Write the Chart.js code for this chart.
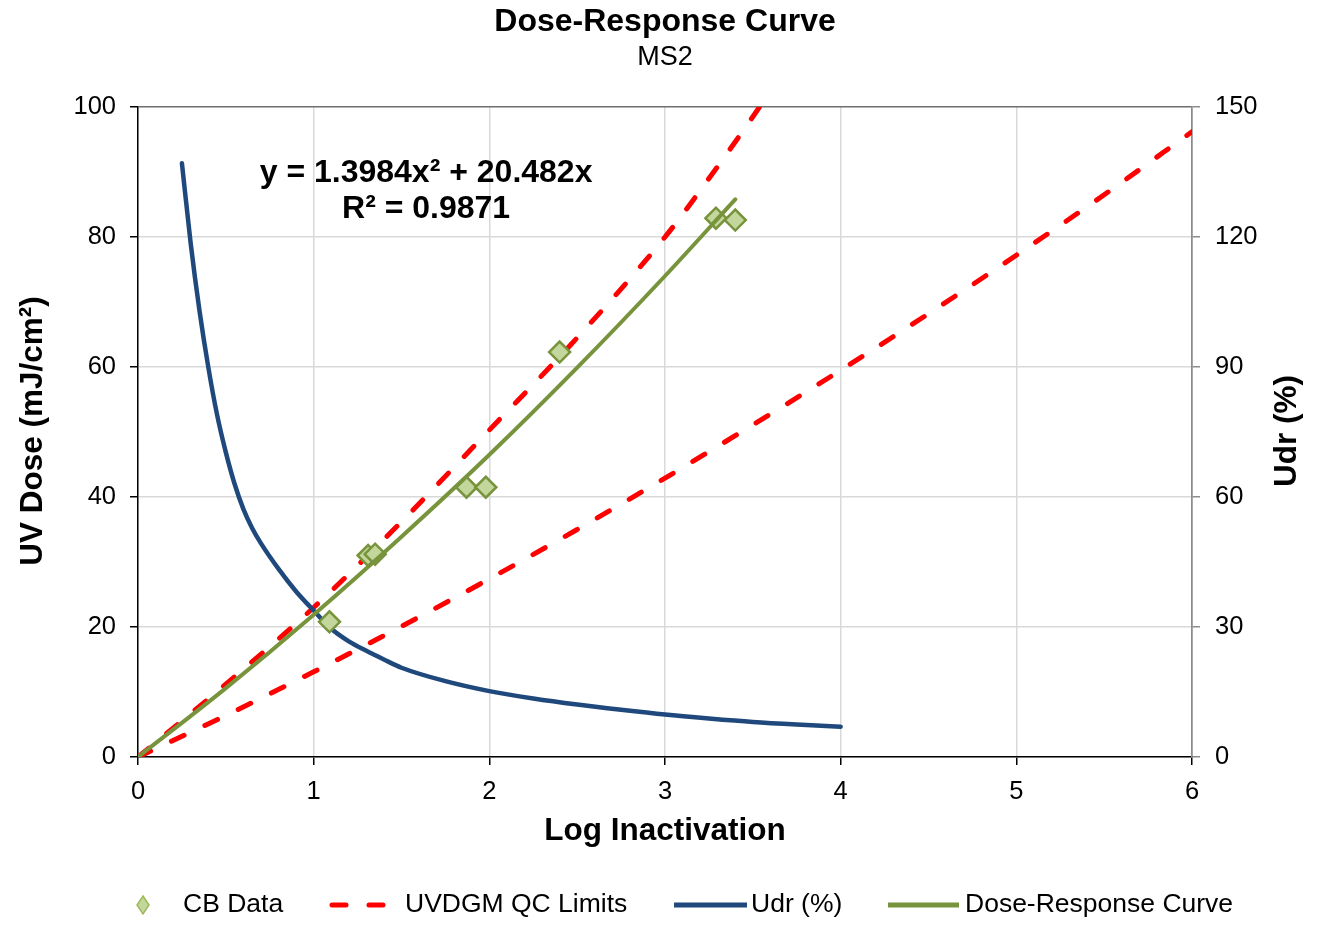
<!DOCTYPE html>
<html>
<head>
<meta charset="utf-8">
<script src="https://cdn.jsdelivr.net/npm/chart.js@4.4.1/dist/chart.umd.min.js"></script>
<style>
  html, body { margin: 0; padding: 0; background: #fff; }
  #wrap { width: 1322px; height: 930px; position: relative; }
</style>
</head>
<body>
<div id="wrap"><canvas id="c"></canvas></div>
<script>
// ---- data ----
const titleText = "Dose-Response Curve";
const subtitleText = "MS2";
const xTitle = "Log Inactivation";
const yTitle = "UV Dose (mJ/cm²)";
const y1Title = "Udr (%)";
const eqLine1 = "y = 1.3984x² + 20.482x";
const eqLine2 = "R² = 0.9871";
const legendLabels = ["CB Data", "UVDGM QC Limits", "Udr (%)", "Dose-Response Curve"];

const xTicks = [0, 1, 2, 3, 4, 5, 6];
const yTicks = [0, 20, 40, 60, 80, 100];
const y1Ticks = [0, 30, 60, 90, 120, 150];

// CB data points (log inactivation, UV dose)
const cbX = [1.09, 1.31, 1.35, 1.87, 1.98, 2.40, 3.29, 3.40];
const cbY = [20.8, 31.0, 31.2, 41.5, 41.5, 62.3, 82.9, 82.6];

// Upper UVDGM QC limit
const qcUpX = [0, 0.5, 1.0, 1.5, 2.0, 2.5, 3.0, 3.25, 3.5, 3.6];
const qcUpY = [0, 11.2, 23.0, 36.2, 50.3, 64.5, 80.0, 89.0, 98.5, 102.5];

// Lower UVDGM QC limit
const qcLoX = [0, 0.5, 1.0, 1.5, 2.0, 2.5, 3.0, 3.5, 4.0, 4.5, 5.0, 5.5, 6.0];
const qcLoY = [0, 6.4, 13.1, 20.1, 27.4, 35.0, 42.9, 51.1, 59.5, 68.2, 77.2, 86.5, 96.2];

// Udr (%) on right axis
const udrX = [0.25, 0.3, 0.35, 0.4, 0.45, 0.5, 0.55, 0.6, 0.65, 0.7, 0.8, 0.9, 1.0, 1.1, 1.2, 1.3, 1.4, 1.5, 1.75, 2.0, 2.25, 2.5, 2.75, 3.0, 3.25, 3.5, 3.75, 4.0];
const udrY = [137, 118.5, 103, 90, 79, 70.3, 63, 57.2, 52.8, 49.3, 43.4, 38.2, 33.8, 29.6, 26.7, 24.5, 22.5, 20.6, 17.5, 15.2, 13.5, 12.1, 10.9, 9.8, 8.9, 8.1, 7.5, 7.0];

// Dose-response curve
const drcX = [0, 0.5, 1.0, 1.5, 2.0, 2.5, 3.0, 3.4];
const drcY = [0, 10.6, 21.9, 33.9, 46.5, 59.9, 74.0, 85.8];

// equation label anchor (data units)
const eqAnchorX = 1.64;
const eqAnchorY = 89.8;
const eqAnchorY2 = 84.3;

// ---- styles ----
const FONT = '"Liberation Sans", Arial, sans-serif';
const RED = '#FF0000';
const BLUE = '#1F497D';
const GREEN = '#77933C';
const DIAMOND_FILL = '#C3D69B';

const pts = (xs, ys) => xs.map((x, i) => ({ x: x, y: ys[i] }));

const decor = {
  id: 'decor',
  afterDraw(chart) {
    const ctx = chart.ctx;
    const xs = chart.scales.x, ys = chart.scales.y;
    ctx.save();
    ctx.fillStyle = '#000';
    ctx.textAlign = 'center';
    ctx.textBaseline = 'middle';
    ctx.font = 'bold 32px ' + FONT;
    ctx.fillText(titleText, 665, 22);
    ctx.font = '27px ' + FONT;
    ctx.fillText(subtitleText, 665, 58);
    ctx.font = 'bold 31.5px ' + FONT;
    ctx.fillText(xTitle, 665, 831);
    ctx.save();
    ctx.translate(33, 431);
    ctx.rotate(-Math.PI / 2);
    ctx.fillText(yTitle, 0, 0);
    ctx.restore();
    ctx.save();
    ctx.translate(1287, 431);
    ctx.rotate(-Math.PI / 2);
    ctx.fillText(y1Title, 0, 0);
    ctx.restore();
    ctx.font = 'bold 32px ' + FONT;
    const ex = xs.getPixelForValue(eqAnchorX);
    ctx.fillText(eqLine1, ex, ys.getPixelForValue(eqAnchorY));
    ctx.fillText(eqLine2, ex, ys.getPixelForValue(eqAnchorY2));

    // legend
    const ly = 905;
    ctx.beginPath();
    ctx.moveTo(143, ly - 9);
    ctx.lineTo(149, ly);
    ctx.lineTo(143, ly + 9);
    ctx.lineTo(137, ly);
    ctx.closePath();
    ctx.fillStyle = DIAMOND_FILL;
    ctx.fill();
    ctx.strokeStyle = '#9BBB59';
    ctx.lineWidth = 1.5;
    ctx.stroke();
    ctx.lineCap = 'round';
    ctx.lineWidth = 5;
    ctx.strokeStyle = RED;
    ctx.beginPath();
    ctx.moveTo(332, ly); ctx.lineTo(346, ly);
    ctx.moveTo(369, ly); ctx.lineTo(383, ly);
    ctx.stroke();
    ctx.lineCap = 'butt';
    ctx.strokeStyle = BLUE;
    ctx.beginPath(); ctx.moveTo(674, ly); ctx.lineTo(747, ly); ctx.stroke();
    ctx.strokeStyle = GREEN;
    ctx.beginPath(); ctx.moveTo(888, ly); ctx.lineTo(959, ly); ctx.stroke();

    ctx.fillStyle = '#000';
    ctx.textAlign = 'left';
    ctx.font = '26.5px ' + FONT;
    ctx.fillText(legendLabels[0], 183, ly);
    ctx.fillText(legendLabels[1], 405, ly);
    ctx.fillText(legendLabels[2], 751, ly);
    ctx.fillText(legendLabels[3], 965, ly);
    ctx.restore();
  }
};

Chart.defaults.font.family = FONT;
Chart.defaults.color = '#000';

new Chart(document.getElementById('c'), {
  type: 'scatter',
  data: {
    datasets: [
      {
        label: legendLabels[1],
        data: pts(qcUpX, qcUpY),
        showLine: true,
        borderColor: RED,
        borderWidth: 5,
        borderDash: [14, 23],
        borderCapStyle: 'round',
        pointRadius: 0,
        cubicInterpolationMode: 'monotone',
        yAxisID: 'y',
        order: 3
      },
      {
        label: legendLabels[1] + ' lower',
        data: pts(qcLoX, qcLoY),
        showLine: true,
        borderColor: RED,
        borderWidth: 5,
        borderDash: [14, 23],
        borderCapStyle: 'round',
        pointRadius: 0,
        cubicInterpolationMode: 'monotone',
        yAxisID: 'y',
        order: 3
      },
      {
        label: legendLabels[2],
        data: pts(udrX, udrY),
        showLine: true,
        borderColor: BLUE,
        borderWidth: 4.5,
        borderCapStyle: 'round',
        pointRadius: 0,
        cubicInterpolationMode: 'monotone',
        yAxisID: 'y1',
        order: 2
      },
      {
        label: legendLabels[0],
        data: pts(cbX, cbY),
        showLine: false,
        pointStyle: 'rectRot',
        pointRadius: 10.5,
        pointBackgroundColor: DIAMOND_FILL,
        pointBorderColor: GREEN,
        pointBorderWidth: 2.5,
        yAxisID: 'y',
        order: 1
      },
      {
        label: legendLabels[3],
        data: pts(drcX, drcY),
        showLine: true,
        borderColor: GREEN,
        borderWidth: 4,
        borderCapStyle: 'round',
        pointRadius: 0,
        cubicInterpolationMode: 'monotone',
        yAxisID: 'y',
        order: 0
      }
    ]
  },
  options: {
    responsive: true,
    maintainAspectRatio: false,
    animation: false,
    events: [],
    layout: { padding: { top: 107, bottom: 73, left: 0, right: 0 } },
    plugins: {
      legend: { display: false },
      title: { display: false },
      tooltip: { enabled: false }
    },
    scales: {
      x: {
        type: 'linear',
        min: 0, max: 6,
        afterFit: s => { s.height = 100; },
        afterBuildTicks: s => { s.ticks = xTicks.map(v => ({ value: v })); },
        ticks: { font: { size: 25.5 }, color: '#000', padding: 12 },
        grid: {
          color: c => (c.tick && c.tick.value === 6) ? '#8c8c8c' : '#d9d9d9',
          lineWidth: 1.5,
          tickColor: '#000',
          tickLength: 8
        },
        border: { color: '#000', width: 1.5 }
      },
      y: {
        type: 'linear',
        position: 'left',
        min: 0, max: 100,
        afterFit: s => { s.width = 138; },
        afterBuildTicks: s => { s.ticks = yTicks.map(v => ({ value: v })); },
        ticks: { font: { size: 25.5 }, color: '#000', padding: 14 },
        grid: {
          color: c => (c.tick && c.tick.value === 100) ? '#6e6e6e' : '#d9d9d9',
          lineWidth: 1.5,
          tickColor: '#000',
          tickLength: 8
        },
        border: { color: '#000', width: 1.5 }
      },
      y1: {
        type: 'linear',
        position: 'right',
        min: 0, max: 150,
        afterFit: s => { s.width = 130; },
        afterBuildTicks: s => { s.ticks = y1Ticks.map(v => ({ value: v })); },
        ticks: { font: { size: 25.5 }, color: '#000', padding: 15 },
        grid: {
          drawOnChartArea: false,
          tickColor: '#8c8c8c',
          tickLength: 8,
          lineWidth: 1.5
        },
        border: { color: '#8c8c8c', width: 1.5 }
      }
    }
  },
  plugins: [decor]
});
</script>
</body>
</html>
